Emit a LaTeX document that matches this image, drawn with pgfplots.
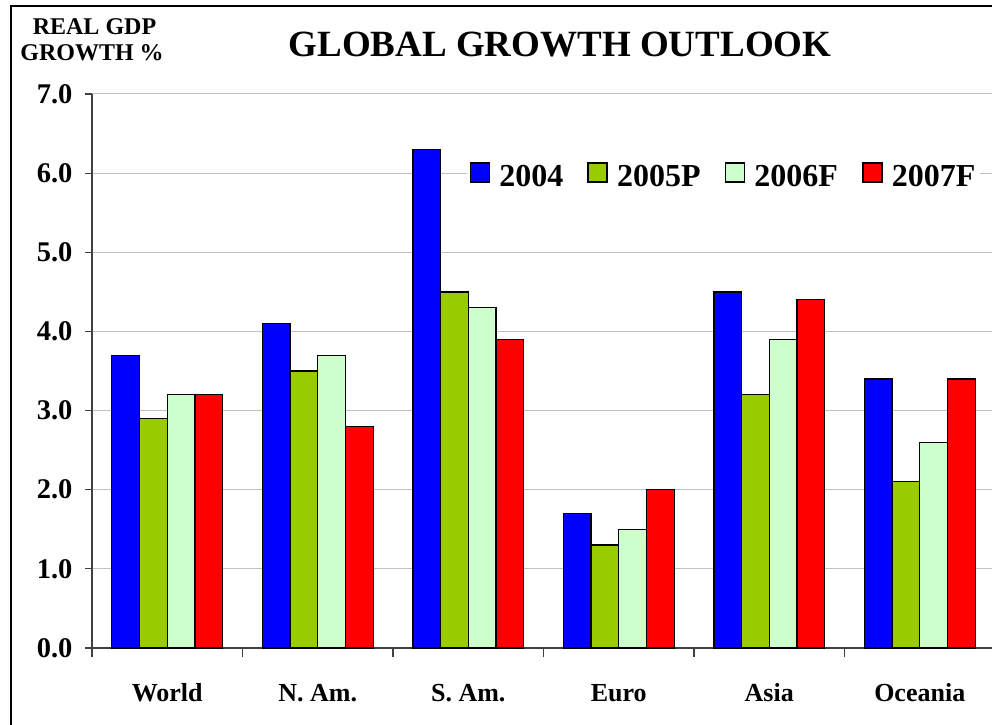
\documentclass[border=0pt]{standalone}
\usepackage{fontspec}
\setmainfont{Liberation Serif}
\usepackage{pgfplots}
\pgfplotsset{compat=1.18}
\definecolor{c04}{RGB}{0,0,255}
\definecolor{c05}{RGB}{153,204,0}
\definecolor{c06}{RGB}{204,255,204}
\definecolor{c07}{RGB}{255,0,0}
\definecolor{gridgray}{RGB}{192,192,192}
\pgfplotsset{sqlegend/.style={legend image code/.code={\draw[##1,line width=1.8pt] (0pt,-5pt) rectangle (19pt,14pt);}}}

\begin{document}
\begin{tikzpicture}[x=1pt,y=1pt]
\useasboundingbox (0,0) rectangle (992,724);
\draw[line width=1.5pt] (11,718) rectangle (1010,-10);
\node[font=\bfseries\fontsize{37}{37}\selectfont, anchor=base] at (560,667) {GLOBAL GROWTH OUTLOOK};
\node[font=\bfseries\fontsize{24}{24}\selectfont, anchor=base] at (94.5,689) {REAL GDP};
\node[font=\bfseries\fontsize{24}{24}\selectfont, anchor=base] at (92,663) {GROWTH \%};
\begin{axis}[
  at={(92pt,76pt)}, anchor=south west,
  scale only axis, width=903pt, height=554pt,
  xmin=-0.5, xmax=5.5, ymin=0, ymax=7,
  ybar=0pt, bar width=27.7pt,
  axis lines=left, axis line style={-, draw=black!75, line width=1.2pt},
  ymajorgrids, grid style={gridgray, line width=1pt},
  ytick={0,...,7},
  xtick={0,...,5}, xticklabels={World, N. Am., S. Am., Euro, Asia, Oceania},
  minor xtick={-0.5,0.5,...,5.5},
  tick align=outside, major tick length=7pt, minor tick length=9pt,
  tick style={black!75, line width=1.2pt},
  major x tick style={draw=none},
  yticklabel={\pgfmathprintnumber[fixed,fixed zerofill,precision=1]{\tick}},
  /pgf/number format/assume math mode=true,
  yticklabel style={font=\bfseries\fontsize{28.5}{28.5}\selectfont, xshift=-9pt},
  xticklabel style={font=\bfseries\fontsize{26}{26}\selectfont, anchor=base, yshift=-46pt},
  legend columns=4,
  legend style={at={(0.4145,0.852)}, anchor=west, draw=none, fill=white,
    font=\bfseries\fontsize{32}{32}\selectfont,
    /tikz/every odd column/.append style={column sep=7pt},
    /tikz/every even column/.append style={column sep=22pt}},
]
\addplot[fill=c04, draw=black, line width=1.3pt, sqlegend] coordinates {(0,3.7) (1,4.1) (2,6.3) (3,1.7) (4,4.5) (5,3.4)};
\addplot[fill=c05, draw=black, line width=1.3pt, sqlegend] coordinates {(0,2.9) (1,3.5) (2,4.5) (3,1.3) (4,3.2) (5,2.1)};
\addplot[fill=c06, draw=black, line width=1.3pt, sqlegend] coordinates {(0,3.2) (1,3.7) (2,4.3) (3,1.5) (4,3.9) (5,2.6)};
\addplot[fill=c07, draw=black, line width=1.3pt, sqlegend] coordinates {(0,3.2) (1,2.8) (2,3.9) (3,2.0) (4,4.4) (5,3.4)};
\legend{2004, 2005P, 2006F, 2007F}
\end{axis}
\end{tikzpicture}
\end{document}
